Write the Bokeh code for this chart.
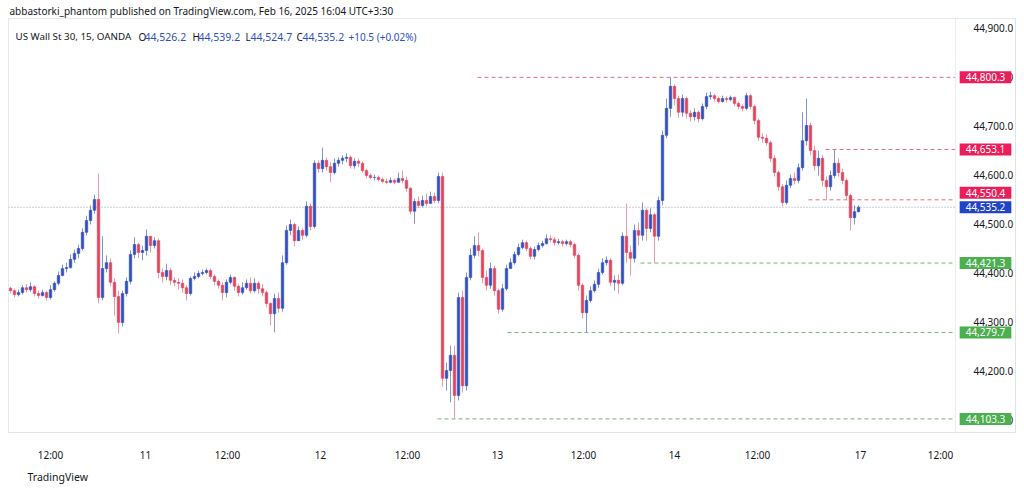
from bokeh.plotting import figure
from bokeh.models import ColumnDataSource, Range1d, FixedTicker, NumeralTickFormatter, Label, Span, Title
from bokeh.embed import file_html
from bokeh.resources import INLINE

# ---- data: US Wall St 30 (OANDA), 15-minute candles ----
first_open = 44370.0
closes = [
    44365, 44357, 44361, 44371, 44367, 44373, 44359, 44355, 44361, 44351,
    44367, 44380, 44396, 44410, 44412, 44429, 44441, 44451, 44484, 44508,
    44529, 44551, 44351, 44410, 44422, 44382, 44353, 44300, 44359, 44384,
    44439, 44459, 44443, 44447, 44476, 44457, 44467, 44402, 44394, 44406,
    44386, 44382, 44380, 44371, 44359, 44390, 44394, 44400, 44402, 44406,
    44394, 44384, 44376, 44361, 44382, 44392, 44374, 44361, 44371, 44380,
    44365, 44380, 44369, 44361, 44339, 44318, 44349, 44329, 44422, 44488,
    44500, 44467, 44488, 44478, 44537, 44496, 44625, 44614, 44631, 44618,
    44606, 44625, 44631, 44635, 44637, 44620, 44629, 44625, 44610, 44600,
    44596, 44596, 44592, 44588, 44586, 44590, 44586, 44594, 44590, 44574,
    44527, 44547, 44539, 44549, 44543, 44557, 44549, 44598, 44186, 44202,
    44233, 44151, 44351, 44171, 44392, 44437, 44457, 44447, 44392, 44376,
    44410, 44365, 44327, 44369, 44410, 44422, 44439, 44453, 44463, 44451,
    44435, 44449, 44457, 44461, 44471, 44469, 44463, 44465, 44461, 44465,
    44459, 44437, 44376, 44320, 44345, 44365, 44378, 44402, 44422, 44427,
    44382, 44386, 44380, 44476, 44443, 44431, 44488, 44478, 44529, 44492,
    44520, 44476, 44549, 44682, 44737, 44782, 44757, 44729, 44757, 44727,
    44720, 44729, 44716, 44741, 44761, 44763, 44757, 44751, 44757, 44755,
    44759, 44747, 44741, 44737, 44763, 44741, 44712, 44678, 44676, 44667,
    44635, 44606, 44577, 44545, 44580, 44594, 44590, 44616, 44671, 44702,
    44651, 44620, 44635, 44590, 44577, 44600, 44625, 44606, 44590, 44559,
    44514, 44526.2, 44535.2,
]
highs = [
    44373, 44369, 44367, 44376, 44378, 44382, 44376, 44365, 44367, 44365,
    44376, 44384, 44404, 44418, 44422, 44439, 44449, 44459, 44492, 44518,
    44539, 44561, 44604, 44476, 44437, 44431, 44390, 44365, 44365, 44392,
    44447, 44474, 44463, 44457, 44490, 44476, 44474, 44471, 44410, 44420,
    44412, 44392, 44390, 44388, 44376, 44394, 44402, 44406, 44408, 44410,
    44410, 44398, 44388, 44382, 44388, 44398, 44394, 44378, 44382, 44388,
    44392, 44390, 44384, 44378, 44365, 44341, 44359, 44361, 44437, 44498,
    44510, 44504, 44496, 44492, 44547, 44543, 44631, 44631, 44657, 44637,
    44627, 44635, 44637, 44641, 44645, 44641, 44635, 44635, 44629, 44614,
    44604, 44602, 44600, 44596, 44594, 44596, 44594, 44606, 44610, 44598,
    44576, 44553, 44557, 44559, 44563, 44567, 44565, 44606, 44606, 44218,
    44253, 44253, 44361, 44365, 44402, 44451, 44476, 44484, 44451, 44406,
    44422, 44416, 44369, 44378, 44418, 44431, 44445, 44461, 44469, 44467,
    44455, 44455, 44463, 44467, 44480, 44478, 44474, 44471, 44469, 44469,
    44469, 44463, 44441, 44380, 44355, 44374, 44386, 44410, 44431, 44435,
    44431, 44396, 44398, 44484, 44543, 44457, 44500, 44504, 44545, 44533,
    44533, 44524, 44557, 44692, 44757, 44800.3, 44786, 44763, 44765, 44761,
    44733, 44737, 44733, 44747, 44769, 44771, 44767, 44761, 44763, 44761,
    44763, 44761, 44751, 44745, 44769, 44767, 44745, 44716, 44686, 44684,
    44671, 44641, 44610, 44582, 44590, 44602, 44606, 44625, 44729, 44757,
    44708, 44661, 44651, 44641, 44598, 44610, 44653.1, 44635, 44614, 44594,
    44563, 44539, 44539.2,
]
lows = [
    44359, 44351, 44353, 44357, 44361, 44363, 44353, 44349, 44353, 44345,
    44347, 44363, 44376, 44394, 44402, 44410, 44422, 44431, 44447, 44478,
    44500, 44522, 44339, 44345, 44402, 44374, 44314, 44278, 44292, 44353,
    44378, 44431, 44431, 44427, 44437, 44443, 44451, 44390, 44382, 44386,
    44376, 44374, 44367, 44361, 44345, 44355, 44386, 44390, 44396, 44398,
    44388, 44376, 44369, 44345, 44351, 44378, 44365, 44353, 44357, 44367,
    44359, 44361, 44359, 44353, 44331, 44294, 44280, 44320, 44322, 44418,
    44478, 44455, 44467, 44469, 44474, 44488, 44492, 44606, 44606, 44610,
    44586, 44602, 44618, 44623, 44627, 44614, 44614, 44618, 44606, 44594,
    44592, 44590, 44588, 44584, 44582, 44584, 44582, 44586, 44584, 44567,
    44520, 44502, 44533, 44535, 44537, 44543, 44543, 44543, 44169, 44161,
    44137, 44103.3, 44141, 44157, 44161, 44386, 44431, 44435, 44380, 44365,
    44369, 44355, 44318, 44322, 44365, 44410, 44418, 44435, 44449, 44445,
    44429, 44429, 44445, 44453, 44459, 44463, 44457, 44459, 44455, 44457,
    44453, 44431, 44365, 44308, 44279.7, 44341, 44361, 44371, 44398, 44416,
    44374, 44365, 44359, 44376, 44422, 44396, 44422, 44457, 44467, 44467,
    44484, 44421.3, 44467, 44539, 44676, 44720, 44743, 44718, 44720, 44716,
    44710, 44712, 44708, 44712, 44735, 44755, 44751, 44747, 44749, 44749,
    44751, 44741, 44735, 44731, 44733, 44735, 44704, 44671, 44667, 44661,
    44627, 44598, 44569, 44537, 44541, 44574, 44582, 44584, 44610, 44661,
    44641, 44610, 44600, 44577, 44550.4, 44569, 44594, 44598, 44582, 44551,
    44488, 44500, 44524.7,
]

# x-axis (bar index) labels
tick_bars = [10.0, 33.75, 54.25, 77.5, 99.25, 121.75, 143.25, 166.0, 186.75, 212.5, 232.5]
tick_labels = ["12:00", "11", "12:00", "12", "12:00", "13", "12:00", "14", "12:00", "17", "12:00"]
price_ticks = [44100, 44200, 44300, 44400, 44500, 44600, 44700, 44800, 44900]

# horizontal levels drawn on the chart
level_values = [44800.3, 44653.1, 44550.4, 44421.3, 44279.7, 44103.3]
level_start_bars = [116.75, 203.75, 199.5, 157.5, 124.25, 106.75]
level_kind = ["res", "res", "res", "sup", "sup", "sup"]
current_price = 44535.2

legend_open, legend_high, legend_low, legend_close = 44526.2, 44539.2, 44524.7, 44535.2
legend_change, legend_change_pct = 10.5, 0.02

# ---- styling ----
UP, DOWN = "#2f4fbf", "#e0445c"
UP_WICK, DOWN_WICK = "#8294d6", "#ee9aaa"
RES_TAG, SUP_TAG, CUR_TAG = "#e91e5a", "#4caf50", "#2144c4"
RES_LINE, SUP_LINE = "#dd7088", "#6dbb70"
TXT = "#131722"
FONT = "Noto Sans"

opens = [first_open] + closes[:-1]
idx = list(range(len(closes)))
ups = [c >= o for o, c in zip(opens, closes)]
src = ColumnDataSource(dict(
    x=idx, high=highs, low=lows,
    top=[max(o, c) for o, c in zip(opens, closes)],
    bottom=[min(o, c) for o, c in zip(opens, closes)],
    body=[UP if u else DOWN for u in ups],
    wick=[UP_WICK if u else DOWN_WICK for u in ups],
))

W, H = 1024, 490
ML, MR, MT, MB = 8, 9, 18, 58
FW, FH = W - ML - MR, H - MT - MB
BAR_PX = 4.0
x_end = -0.5 + FW / BAR_PX
scale_edge = -0.5 + (955 - ML) / BAR_PX      # where the price scale column begins

p = figure(width=W, height=H, output_backend="svg", toolbar_location=None,
           x_range=Range1d(-0.5, x_end), y_range=Range1d(44075.5, 44920.4),
           y_axis_location="right",
           min_border_left=ML, min_border_right=MR, min_border_top=MT, min_border_bottom=MB)
p.background_fill_color = "white"
p.border_fill_color = "white"
p.outline_line_color = "#e6e8ee"
p.grid.grid_line_color = None

# header / footer
p.title.text = "abbastorki_phantom published on TradingView.com, Feb 16, 2025 16:04 UTC+3:30"
p.title.align = "left"
p.title.offset = 1
p.title.standoff = 2
p.title.text_font = FONT
p.title.text_font_size = "10px"
p.title.text_font_style = "normal"
p.title.text_color = TXT
p.add_layout(Title(text="TradingView", align="left", offset=19, standoff=6,
                   text_font=FONT, text_font_size="10.5px", text_font_style="normal",
                   text_color=TXT), "below")

# price-scale separator
p.add_layout(Span(location=scale_edge, dimension="height", line_color="#eceef2", line_width=1))

# levels (behind candles)
p.segment(x0=level_start_bars, y0=level_values, x1=[scale_edge] * len(level_values), y1=level_values,
          line_color=[RES_LINE if k == "res" else SUP_LINE for k in level_kind],
          line_dash="4 3", line_width=1)
p.segment(x0=[-0.5], y0=[current_price], x1=[scale_edge], y1=[current_price],
          line_color="#8f9bb8", line_dash="1 2", line_width=1)

p.segment(x0="x", y0="high", x1="x", y1="low", line_color="wick", line_width=1, source=src)
p.vbar(x="x", width=0.62, top="top", bottom="bottom", fill_color="body", line_color="body",
       line_width=0.6, source=src)

# axes
p.xaxis.ticker = FixedTicker(ticks=tick_bars)
p.xaxis.major_label_overrides = {t: s for t, s in zip(tick_bars, tick_labels)}
p.yaxis.ticker = FixedTicker(ticks=price_ticks)
p.yaxis.formatter = NumeralTickFormatter(format="0,0.0")
for ax in (p.xaxis[0], p.yaxis[0]):
    ax.axis_line_color = "#e0e3eb"
    ax.major_tick_line_color = None
    ax.minor_tick_line_color = None
    ax.major_label_text_font = FONT
    ax.major_label_text_font_size = "10px"
    ax.major_label_text_color = TXT
p.xaxis.major_label_standoff = 9
p.yaxis.major_label_standoff = -(1015 - 967)   # labels sit inside the price-scale column

# price tags on the scale
tag_cx = 985 - ML
tags = [(v, RES_TAG if k == "res" else SUP_TAG) for v, k in zip(level_values, level_kind)]
for v, col in tags:
    off = 7 if v == 44550.4 else 0
    p.add_layout(Label(x=tag_cx, y=v, x_units="screen", y_units="data", y_offset=off,
                       text=f"{v:,.1f}", text_color="white", text_font=FONT,
                       text_font_size="10px", text_align="center", text_baseline="middle",
                       background_fill_color=col,
                       padding=dict(left=6, right=6, top=2, bottom=2)))
p.add_layout(Label(x=tag_cx, y=current_price, x_units="screen", y_units="data",
                   text=f"{current_price:,.1f}", text_color="white", text_font=FONT,
                   text_font_size="10px", text_align="center", text_baseline="middle",
                   background_fill_color=CUR_TAG,
                   padding=dict(left=6, right=6, top=2, bottom=2)))

def lab(x_abs, y_abs, text, color=TXT, size="10px", style="normal"):
    p.add_layout(Label(x=x_abs - ML, y=(MT + FH) - y_abs, x_units="screen", y_units="screen",
                       text=text, text_color=color, text_font=FONT,
                       text_font_size=size, text_font_style=style, text_baseline="middle"))

# legend line
BLUE_TXT = "#2d4fbe"
lab(15, 36, "US Wall St 30, 15, OANDA", size="9.8px")
lab(138, 36, "O"); lab(144, 36, f"{legend_open:,.1f}", BLUE_TXT, size="10.5px")
lab(192, 36, "H"); lab(198, 36, f"{legend_high:,.1f}", BLUE_TXT, size="10.5px")
lab(245, 36, "L"); lab(250, 36, f"{legend_low:,.1f}", BLUE_TXT, size="10.5px")
lab(296, 36, "C"); lab(302, 36, f"{legend_close:,.1f}", BLUE_TXT, size="10.5px")
lab(348, 36, f"+{legend_change} (+{legend_change_pct:.2f}%)", BLUE_TXT, size="10px")

open("out.html", "w").write(file_html(p, INLINE))
